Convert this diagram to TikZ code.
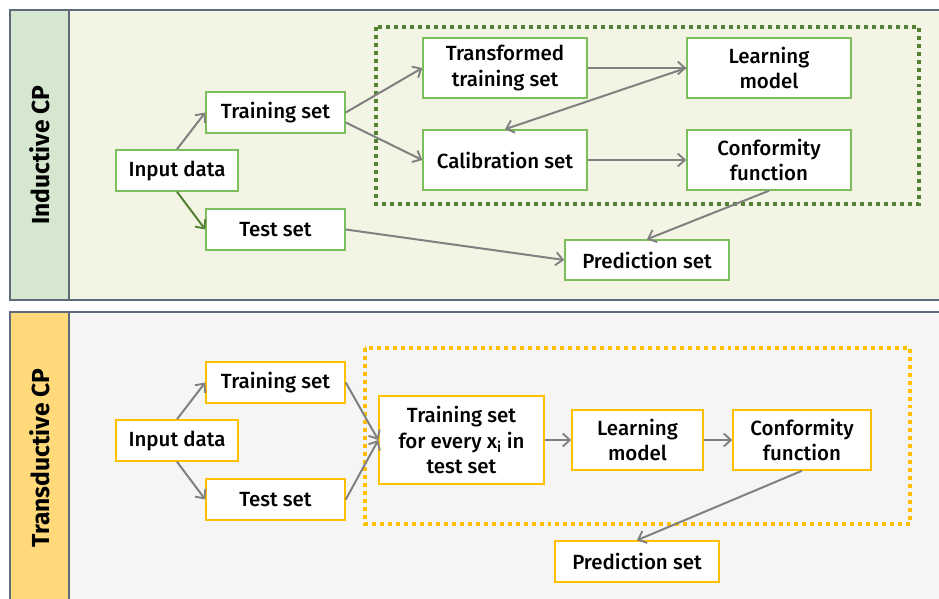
\documentclass[tikz,border=0pt]{standalone}
\usepackage{fontspec}
\setmainfont{Fira Sans}[UprightFont=* Medium, BoldFont=* Bold]
\usetikzlibrary{arrows.meta}
\definecolor{gbox}{HTML}{7DBE5C}
\definecolor{gdark}{HTML}{548235}
\definecolor{ybox}{HTML}{FFC000}
\definecolor{topfill}{HTML}{F3F4E3}
\definecolor{topstrip}{HTML}{D5E8CF}
\definecolor{botstrip}{HTML}{FFD97A}
\definecolor{botfill}{HTML}{F5F5F5}
\definecolor{pborder}{HTML}{5F6B7A}
\definecolor{arrgray}{HTML}{808080}
\tikzset{
  box/.style={draw, fill=white, line width=1.3pt, inner sep=0pt, align=center,
    font=\fontsize{17.5}{21.5}\selectfont},
  gb/.style={box, draw=gbox},
  yb/.style={box, draw=ybox},
  conn/.style={draw=arrgray, line width=1.7pt, -{Straight Barb[length=6pt,width=11pt,line width=1.6pt]}},
  panel/.style={draw=pborder, line width=1.2pt},
  lbl/.style={font=\fontsize{21}{24}\bfseries, rotate=90},
  dotbox/.style={line width=3.4pt, dash pattern=on 3.4pt off 3.4pt}
}
\begin{document}
\begin{tikzpicture}[x=0.03cm,y=-0.03cm]
\useasboundingbox (0,0) rectangle (939,599);
\clip (0,0) rectangle (939,599);
% panels
\path[panel, fill=topfill] (69,10) rectangle (960,300);
\path[panel, fill=topstrip] (10,10) rectangle (69,300);
\path[panel, fill=botfill] (69,312) rectangle (960,620);
\path[panel, fill=botstrip] (10,312) rectangle (69,620);
\node[lbl] (l1) at (40,155) {Inductive CP};
\node[lbl] (l2) at (40,458) {Transductive CP};
% dotted boxes
\draw[dotbox, draw=gdark] (376,27) rectangle (919,204);
\draw[dotbox, draw=ybox] (365,348) rectangle (910,524);
% top nodes
\node[gb, minimum width=3.66cm, minimum height=1.23cm] (in1) at (177,170.5) {Input data};
\node[gb, minimum width=4.17cm, minimum height=1.23cm] (tr1) at (275.5,112.5) {Training set};
\node[gb, minimum width=4.17cm, minimum height=1.23cm] (te1) at (275.5,229.5) {Test set};
\node[gb, minimum width=4.92cm, minimum height=1.8cm] (tt1) at (505,68) {Transformed\\training set};
\node[gb, minimum width=4.92cm, minimum height=1.8cm] (ca1) at (505,160) {Calibration set};
\node[gb, minimum width=4.92cm, minimum height=1.8cm] (lm1) at (769,68) {Learning\\model};
\node[gb, minimum width=4.92cm, minimum height=1.8cm] (cf1) at (769,160) {Conformity\\function};
\node[gb, minimum width=4.92cm, minimum height=1.2cm] (ps1) at (647,260) {Prediction set};
% top connectors
\draw[conn] (in1.north) -- (tr1.west);
\draw[conn, draw=gdark] (in1.south) -- (te1.west);
\draw[conn] (tr1.east) -- (tt1.west);
\draw[conn] ([yshift=-0.3cm]tr1.east) -- (ca1.west);
\draw[conn] (tt1.east) -- (lm1.west);
\draw[conn] (lm1.west) -- (ca1.north);
\draw[conn] (ca1.east) -- (cf1.west);
\draw[conn] (cf1.south) -- (ps1.north);
\draw[conn] (te1.east) -- (ps1.west);
% bottom nodes
\node[yb, minimum width=3.66cm, minimum height=1.23cm] (in2) at (177,440.5) {Input data};
\node[yb, minimum width=4.17cm, minimum height=1.23cm] (tr2) at (275.5,382.5) {Training set};
\node[yb, minimum width=4.17cm, minimum height=1.23cm] (te2) at (275.5,499.5) {Test set};
\node[yb, minimum width=4.95cm, minimum height=2.64cm] (ts2) at (461.5,440) {Training set\\for every x\textsubscript{i} in\\test set};
\node[yb, minimum width=3.93cm, minimum height=1.8cm] (lm2) at (637.5,440) {Learning\\model};
\node[yb, minimum width=4.14cm, minimum height=1.8cm] (cf2) at (802,440) {Conformity\\function};
\node[yb, minimum width=4.92cm, minimum height=1.23cm] (ps2) at (637,561.5) {Prediction set};
% bottom connectors
\draw[conn] (in2.north) -- (tr2.west);
\draw[conn] (in2.south) -- (te2.west);
\draw[conn] (tr2.east) -- (ts2.west);
\draw[conn] (te2.east) -- (ts2.west);
\draw[conn] (ts2.east) -- (lm2.west);
\draw[conn] (lm2.east) -- (cf2.west);
\draw[conn] (cf2.south) -- (ps2.north);
\end{tikzpicture}
\end{document}
